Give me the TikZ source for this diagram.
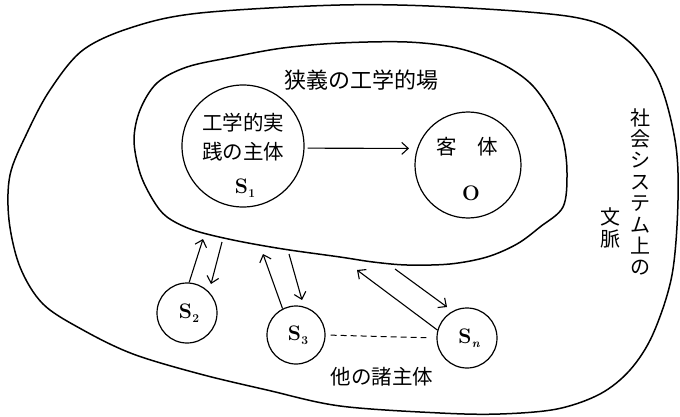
\documentclass[tikz,border=0pt]{standalone}
\usepackage{fontspec}
\newfontfamily\jp{Noto Sans CJK JP}
\usetikzlibrary{arrows.meta}
\newcommand\subidx[1]{\kern0.5pt\raisebox{-4.5pt}{\fontsize{12}{13}\selectfont #1}}
\begin{document}
\begin{tikzpicture}[x=1pt,y=-1pt,
  boundary/.style={line width=1.5pt},
  ent/.style={circle,draw,line width=1.2pt,inner sep=0pt},
  jtext/.style={font=\jp\fontsize{20.5}{22}\selectfont, inner sep=0pt},
  ltext/.style={font=\fontsize{21}{24}\selectfont\bfseries, inner sep=0pt},
  arr/.style={line width=1.1pt,-{Straight Barb[length=6.5pt,width=12pt]}},
]
\useasboundingbox (0,0) rectangle (680,417);
\fill[white] (0,0) rectangle (680,417);
% outer boundary: social system context
\draw[boundary] plot[smooth cycle, tension=0.55] coordinates {
 (340,5) (450,7) (573,17) (623,37) (657,77) (675,140) (678,200) (672,275)
 (653,334) (630,370) (600,394) (557,409) (500,414) (440,413) (340,406)
 (267,390) (200,374) (133,354) (83,330) (43,304) (20,267) (9,220) (10,175)
 (27,133) (50,90) (83,50) (133,27) (200,13)};
% inner boundary: narrow engineering field
\draw[boundary] plot[smooth cycle, tension=0.55] coordinates {
 (340,43) (407,42) (457,48) (500,63) (530,83) (550,110) (563,140) (567,173)
 (563,207) (540,227) (517,244) (487,257) (450,264) (407,265) (373,262)
 (340,257) (283,249) (233,240) (193,230) (167,217) (153,200) (140,173)
 (134,140) (140,110) (157,83) (187,67) (233,57) (283,48)};

% entities
\node[ent, minimum size=122pt] (S1) at (243,146) {};
\node[ent, minimum size=106pt] (O) at (468,165) {};
\node[ent, minimum size=60pt] (S2) at (187,313) {};
\node[ent, minimum size=58pt] (S3) at (296,335) {};
\node[ent, minimum size=60pt] (Sn) at (467,338) {};

% texts
\node[jtext, font=\jp\fontsize{22}{24}\selectfont] (field) at (361,80) {狭義の工学的場};
\node[jtext] (s1a) at (243,123) {工学的実};
\node[jtext] (s1b) at (243,152) {践の主体};
\node[ltext] (s1c) at (245,188) {S\subidx{1}};
\node[jtext] (oa) at (467,147) {客　体};
\node[ltext] (ob) at (471,193) {O};
\node[ltext] (s2t) at (189,313) {S\subidx{2}};
\node[ltext] (s3t) at (298,335) {S\subidx{3}};
\node[ltext] (snt) at (469,338) {S\subidx{\itshape n}};
\node[jtext] (others) at (382,377) {他の諸主体};
\node[jtext, align=center, font=\jp\fontsize{20}{21.4}\selectfont] (ctx1) at (640,192)
  {社\\会\\シ\\ス\\テ\\ム\\上\\の};
\node[jtext, align=center, font=\jp\fontsize{20}{22}\selectfont] (ctx2) at (610,228)
  {文\\脈};

% main arrow
\draw[arr, shorten <=3pt, shorten >=8pt] (S1.358) -- (O.162);

% coordinates of free ends near the inner boundary
\coordinate (u2) at (203,239);
\coordinate (d2) at (222,242);
\coordinate (d2e) at (211,284);
\coordinate (u3) at (263,254);
\coordinate (d3) at (289,254);
\coordinate (d3e) at (302,300);
\coordinate (un) at (357,270);
\coordinate (dn) at (395,269);
\coordinate (dne) at (447,307);

\draw[arr] (S2.86) -- (u2);
\draw[arr] (d2) -- (d2e);
\draw[arr] (S3.117) -- (u3);
\draw[arr] (d3) -- (d3e);
\draw[arr] (Sn.165) -- (un);
\draw[arr] (dn) -- (dne);

\draw[line width=1pt, dash pattern=on 6pt off 4pt, shorten <=5pt, shorten >=10pt] (S3.east) -- (Sn.west);
\end{tikzpicture}
\end{document}
